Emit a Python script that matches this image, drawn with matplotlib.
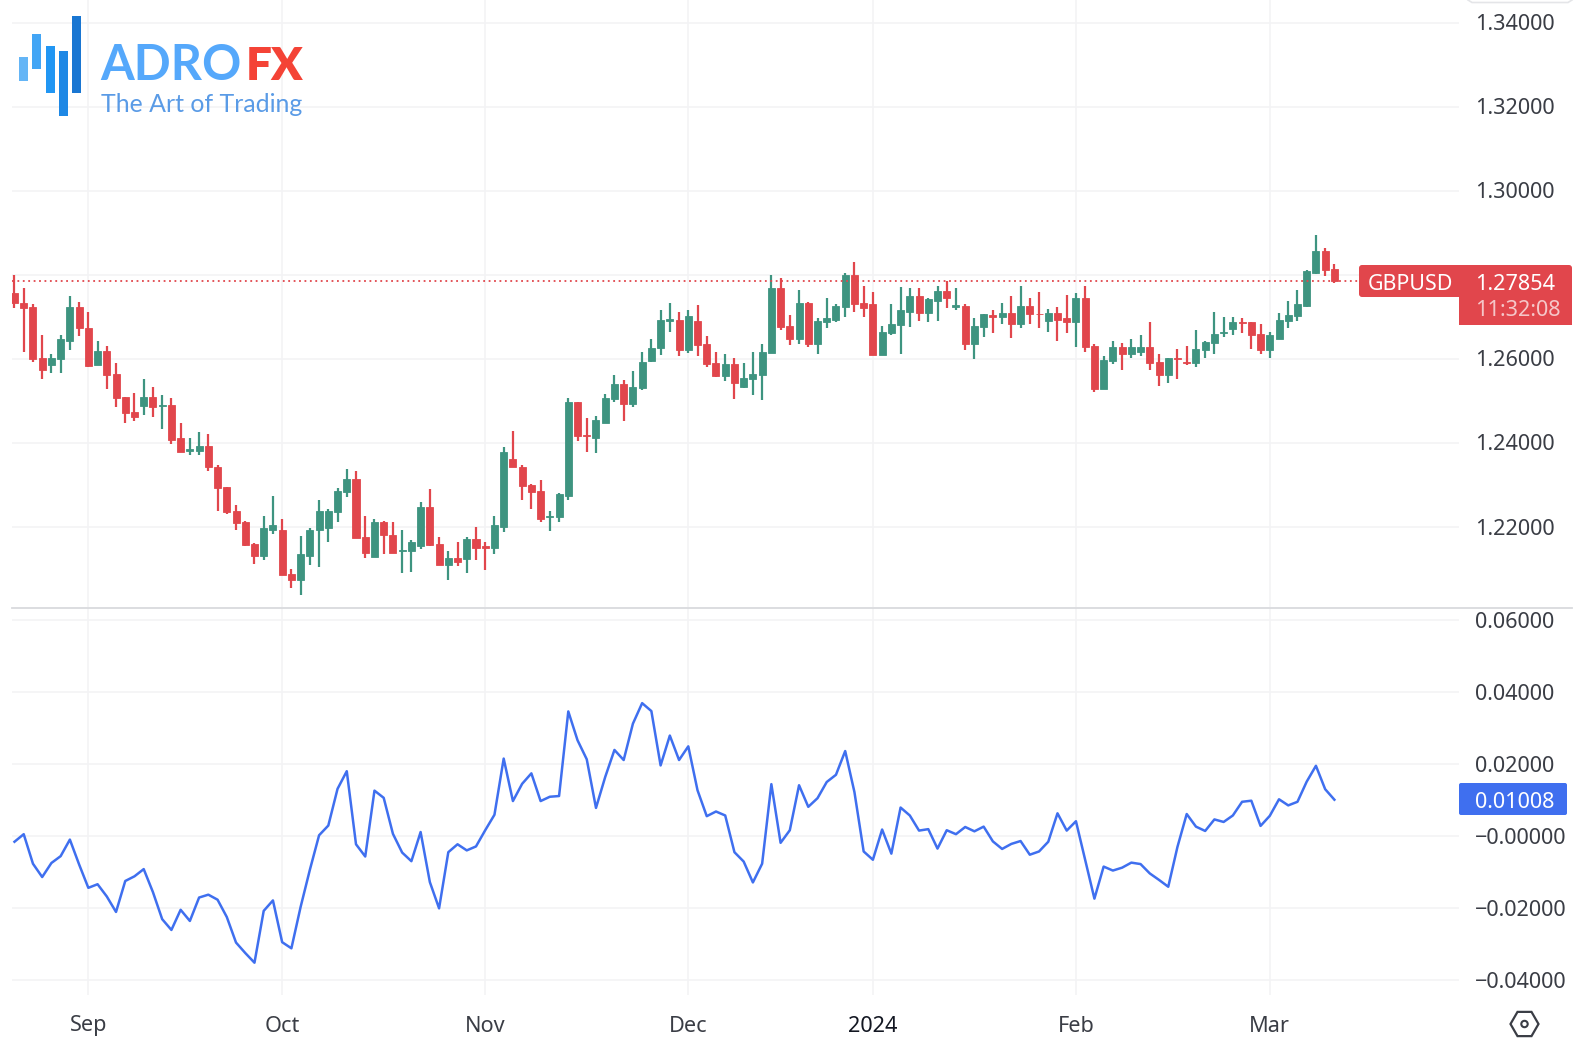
import numpy as np
import matplotlib
matplotlib.use('Agg')
import matplotlib.pyplot as plt
from matplotlib.patches import Rectangle, RegularPolygon, Circle, FancyBboxPatch

# GBPUSD daily candles
opens = [1.2756,1.2734,1.2723,1.2602,1.2585,1.2599,1.2644,1.2723,1.2675,1.2585,
         1.2620,1.2565,1.2510,1.2473,1.2489,1.2510,1.2489,1.2491,1.2411,1.2382,
         1.2382,1.2392,1.2344,1.2296,1.2237,1.2212,1.2160,1.2132,1.2194,1.2193,
         1.2087,1.2073,1.2132,1.2192,1.2198,1.2236,1.2283,1.2315,1.2175,1.2128,
         1.2212,1.2182,1.2143,1.2143,1.2155,1.2248,1.2160,1.2110,1.2127,1.2124,
         1.2171,1.2154,1.2150,1.2201,1.2363,1.2344,1.2301,1.2286,1.2224,1.2224,
         1.2274,1.2498,1.2418,1.2412,1.2448,1.2504,1.2540,1.2493,1.2530,1.2596,
         1.2626,1.2691,1.2694,1.2621,1.2691,1.2636,1.2591,1.2559,1.2587,1.2533,
         1.2552,1.2563,1.2614,1.2768,1.2679,1.2647,1.2734,1.2636,1.2688,1.2694,
         1.2725,1.2801,1.2734,1.2731,1.2610,1.2661,1.2680,1.2713,1.2750,1.2710,
         1.2739,1.2761,1.2725,1.2727,1.2636,1.2676,1.2705,1.2699,1.2709,1.2683,
         1.2727,1.2708,1.2691,1.2709,1.2698,1.2687,1.2745,1.2632,1.2529,1.2595,
         1.2628,1.2613,1.2617,1.2628,1.2594,1.2563,1.2602,1.2594,1.2591,1.2621,
         1.2637,1.2662,1.2672,1.2687,1.2687,1.2660,1.2621,1.2648,1.2691,1.2702,
         1.2726,1.2804,1.2856,1.2815]
highs = [1.2800,1.2768,1.2730,1.2657,1.2612,1.2657,1.2750,1.2735,1.2713,1.2643,
         1.2631,1.2591,1.2510,1.2518,1.2552,1.2533,1.2514,1.2506,1.2448,1.2411,
         1.2425,1.2422,1.2348,1.2296,1.2252,1.2215,1.2163,1.2227,1.2274,1.2220,
         1.2101,1.2178,1.2197,1.2264,1.2244,1.2292,1.2337,1.2334,1.2227,1.2220,
         1.2215,1.2212,1.2194,1.2170,1.2260,1.2290,1.2175,1.2142,1.2165,1.2175,
         1.2201,1.2165,1.2227,1.2391,1.2429,1.2348,1.2302,1.2312,1.2237,1.2282,
         1.2506,1.2498,1.2459,1.2465,1.2517,1.2561,1.2550,1.2572,1.2616,1.2647,
         1.2717,1.2734,1.2712,1.2717,1.2728,1.2654,1.2616,1.2613,1.2602,1.2591,
         1.2616,1.2636,1.2799,1.2793,1.2705,1.2764,1.2735,1.2697,1.2746,1.2730,
         1.2804,1.2830,1.2775,1.2760,1.2679,1.2731,1.2772,1.2768,1.2768,1.2746,
         1.2775,1.2786,1.2768,1.2730,1.2697,1.2708,1.2717,1.2734,1.2749,1.2775,
         1.2746,1.2760,1.2719,1.2723,1.2752,1.2756,1.2775,1.2635,1.2606,1.2643,
         1.2639,1.2647,1.2657,1.2687,1.2613,1.2602,1.2625,1.2631,1.2669,1.2643,
         1.2711,1.2701,1.2701,1.2697,1.2687,1.2683,1.2664,1.2709,1.2738,1.2764,
         1.2812,1.2896,1.2864,1.2826]
lows = [1.2721,1.2617,1.2592,1.2552,1.2566,1.2566,1.2621,1.2655,1.2580,1.2585,
        1.2529,1.2485,1.2448,1.2452,1.2466,1.2463,1.2433,1.2397,1.2378,1.2371,
        1.2371,1.2334,1.2239,1.2232,1.2194,1.2155,1.2113,1.2121,1.2183,1.2085,
        1.2054,1.2039,1.2109,1.2105,1.2164,1.2213,1.2272,1.2173,1.2125,1.2128,
        1.2136,1.2139,1.2091,1.2094,1.2147,1.2155,1.2110,1.2073,1.2106,1.2091,
        1.2121,1.2098,1.2136,1.2187,1.2342,1.2265,1.2243,1.2213,1.2190,1.2213,
        1.2265,1.2405,1.2378,1.2375,1.2448,1.2498,1.2452,1.2485,1.2526,1.2593,
        1.2610,1.2665,1.2607,1.2615,1.2607,1.2580,1.2556,1.2548,1.2504,1.2530,
        1.2514,1.2502,1.2614,1.2669,1.2633,1.2636,1.2628,1.2613,1.2675,1.2687,
        1.2701,1.2713,1.2701,1.2610,1.2610,1.2658,1.2613,1.2677,1.2691,1.2687,
        1.2691,1.2721,1.2717,1.2621,1.2599,1.2652,1.2661,1.2684,1.2651,1.2673,
        1.2683,1.2675,1.2665,1.2644,1.2661,1.2628,1.2617,1.2522,1.2529,1.2588,
        1.2574,1.2602,1.2606,1.2574,1.2536,1.2544,1.2552,1.2585,1.2582,1.2602,
        1.2613,1.2652,1.2658,1.2661,1.2625,1.2613,1.2603,1.2648,1.2673,1.2691,
        1.2725,1.2802,1.2798,1.2780]
closes = [1.2733,1.2721,1.2599,1.2574,1.2602,1.2647,1.2723,1.2673,1.2583,1.2620,
          1.2563,1.2508,1.2471,1.2463,1.2510,1.2485,1.2491,1.2407,1.2378,1.2386,
          1.2392,1.2342,1.2294,1.2235,1.2209,1.2157,1.2132,1.2197,1.2205,1.2085,
          1.2074,1.2135,1.2194,1.2237,1.2237,1.2286,1.2315,1.2173,1.2139,1.2212,
          1.2180,1.2139,1.2146,1.2164,1.2248,1.2157,1.2110,1.2127,1.2117,1.2172,
          1.2151,1.2151,1.2205,1.2378,1.2342,1.2297,1.2283,1.2220,1.2227,1.2278,
          1.2498,1.2417,1.2416,1.2454,1.2506,1.2540,1.2493,1.2533,1.2594,1.2627,
          1.2694,1.2695,1.2621,1.2702,1.2633,1.2588,1.2559,1.2587,1.2544,1.2554,
          1.2564,1.2617,1.2768,1.2677,1.2648,1.2734,1.2636,1.2690,1.2698,1.2727,
          1.2801,1.2732,1.2721,1.2610,1.2664,1.2683,1.2717,1.2750,1.2710,1.2742,
          1.2761,1.2746,1.2728,1.2636,1.2679,1.2706,1.2699,1.2709,1.2683,1.2727,
          1.2706,1.2706,1.2709,1.2694,1.2687,1.2745,1.2629,1.2528,1.2598,1.2628,
          1.2613,1.2628,1.2628,1.2591,1.2563,1.2602,1.2600,1.2591,1.2624,1.2640,
          1.2660,1.2664,1.2687,1.2686,1.2658,1.2621,1.2657,1.2694,1.2705,1.2731,
          1.2809,1.2856,1.2812,1.27854]

# indicator line underneath
spread = [-0.0016,0.0005,-0.0077,-0.0114,-0.0075,-0.0056,-0.0010,-0.0079,-0.0144,-0.0134,
          -0.0168,-0.0211,-0.0125,-0.0112,-0.0092,-0.0156,-0.0231,-0.0261,-0.0205,-0.0236,
          -0.0171,-0.0163,-0.0177,-0.0225,-0.0296,-0.0325,-0.0352,-0.0208,-0.0179,-0.0295,
          -0.0312,-0.0197,-0.0094,0.0002,0.0029,0.0131,0.0180,-0.0023,-0.0057,0.0126,
          0.0106,0.0006,-0.0046,-0.0070,0.0011,-0.0128,-0.0201,-0.0045,-0.0023,-0.0040,
          -0.0029,0.0016,0.0059,0.0215,0.0097,0.0145,0.0174,0.0097,0.0109,0.0111,
          0.0346,0.0266,0.0213,0.0078,0.0164,0.0239,0.0211,0.0312,0.0369,0.0347,
          0.0196,0.0279,0.0211,0.0249,0.0127,0.0055,0.0068,0.0057,-0.0045,-0.0071,
          -0.0129,-0.0077,0.0144,-0.0019,0.0016,0.0141,0.0081,0.0105,0.0150,0.0170,
          0.0236,0.0122,-0.0043,-0.0066,0.0018,-0.0049,0.0079,0.0057,0.0015,0.0019,
          -0.0035,0.0016,0.0005,0.0025,0.0013,0.0026,-0.0015,-0.0036,-0.0022,-0.0014,
          -0.0052,-0.0043,-0.0016,0.0063,0.0015,0.0041,-0.0067,-0.0174,-0.0085,-0.0096,
          -0.0088,-0.0074,-0.0078,-0.0104,-0.0122,-0.0141,-0.0030,0.0061,0.0026,0.0014,
          0.0046,0.0039,0.0057,0.0095,0.0098,0.0028,0.0056,0.0102,0.0085,0.0095,
          0.0151,0.0195,0.0130,0.01008]

month_pos = [8, 29, 51, 73, 93, 115, 136]
month_labels = ['Sep', 'Oct', 'Nov', 'Dec', '2024', 'Feb', 'Mar']
price_ticks = [1.22, 1.24, 1.26, 1.28, 1.30, 1.32, 1.34]
spread_ticks = [-0.04, -0.02, 0.0, 0.02, 0.04, 0.06]
spread_labels = ['\u22120.04000', '\u22120.02000', '\u22120.00000', '0.02000', '0.04000', '0.06000']

W, H = 1574, 1048
GREEN = '#3E9480'
RED = '#E1464C'
BLUE = '#3F6FEF'
GRID = '#F3F3F5'
TXT = '#3A3D45'
FONT = 'Noto Sans'
plt.rcParams['font.family'] = [FONT, 'DejaVu Sans']


def px_axes(left, top, right, bottom):
    return fig.add_axes([left / W, 1 - bottom / H, (right - left) / W, (bottom - top) / H])


fig = plt.figure(figsize=(W / 100, H / 100), dpi=100, facecolor='white')
ax1 = px_axes(12, 0, 1459, 607)
ax2 = px_axes(12, 608, 1459, 995)

x = np.arange(len(opens))
o, h, l, c = map(np.array, (opens, highs, lows, closes))
colors = [GREEN if cc >= oo else RED for oo, cc in zip(o, c)]

ax1.vlines(x, l, h, colors=colors, linewidth=1.6, zorder=3)
ax1.bar(x, np.abs(c - o), bottom=np.minimum(o, c), width=0.76, color=colors,
        edgecolor=colors, linewidth=0.6, zorder=4)
ax1.axhline(closes[-1], color=RED, linestyle=(0, (1, 2)), linewidth=1.3, zorder=5)
ax1.set_xlim(-0.27, 156.5)
ax1.set_ylim(1.20095, 1.34548)
ax1.set_yticks(price_ticks)

ax2.plot(x, spread, color=BLUE, linewidth=1.8, zorder=3)
ax2.set_xlim(-0.27, 156.5)
ax2.set_ylim(-0.04417, 0.06333)
ax2.set_yticks(spread_ticks)

for ax in (ax1, ax2):
    ax.set_xticks(month_pos)
    ax.grid(True, color=GRID, linewidth=1.2)
    ax.set_axisbelow(True)
    ax.tick_params(length=0, labelbottom=False, labelleft=False)
    for s in ax.spines.values():
        s.set_visible(False)
    ax.patch.set_alpha(0)

# tick labels, boxes and logo in pixel coordinates
ov = fig.add_axes([0, 0, 1, 1], zorder=10)
ov.set_xlim(0, W)
ov.set_ylim(H, 0)
ov.axis('off')

ov.plot([12, 1572], [607.5, 607.5], color='#D9DADD', linewidth=1.3)
ov.plot([1468, 1472, 1568, 1572], [0, 2.5, 2.5, 0], color='#E4E5E8', linewidth=1.2)

for t in price_ticks:
    if t == 1.28:
        continue
    y = 361 - (t - 1.26) * 4200
    ov.text(1475, y, '%.5f' % t, fontsize=15.6, color=TXT, va='center', ha='left')
for t, s in zip(spread_ticks, spread_labels):
    y = 838 - t * 3600
    ov.text(1475, y, s, fontsize=15.6, color=TXT, va='center', ha='left')

for p, s in zip(month_pos, month_labels):
    px = 14.5 + 9.23 * p
    ov.text(px, 1026, s, fontsize=15.6, color='#131722' if s == '2024' else TXT,
            fontweight='bold' if s == '2024' else 'normal', va='center', ha='center')

ov.add_patch(FancyBboxPatch((1361, 267), 209, 28, boxstyle='round,pad=2,rounding_size=3',
                            color=RED, lw=0))
ov.add_patch(Rectangle((1459, 290), 113, 35, color=RED, lw=0))
ov.text(1368, 284, 'GBPUSD', fontsize=15.4, color='white', fontweight='medium', va='center', ha='left')
ov.text(1475, 284, '1.27854', fontsize=15.6, color='white', fontweight='semibold', va='center', ha='left')
ov.text(1475, 311, '11:32:08', fontsize=15.6, color='#F5C6C8', va='center', ha='left')

ov.add_patch(FancyBboxPatch((1461, 785), 104, 28, boxstyle='round,pad=2,rounding_size=2',
                            color=BLUE, lw=0))
ov.text(1475, 802, '0.01008', fontsize=15.6, color='white', fontweight='semibold', va='center', ha='left')

ov.add_patch(RegularPolygon((1524.5, 1024), 6, radius=14, orientation=np.pi / 6,
                            fill=False, edgecolor=TXT, linewidth=1.6))
ov.add_patch(Circle((1524.5, 1024), 3.2, fill=False, edgecolor=TXT, linewidth=1.5))

logo_bars = [(19, 57, 81, '#64B5F6'), (32, 34, 69, '#42A5F5'), (46, 46, 93, '#2196F3'),
             (59, 51, 116, '#1E88E5'), (72, 16, 93, '#1976D2')]
for bx, by0, by1, bc in logo_bars:
    ov.add_patch(Rectangle((bx, by0), 9, by1 - by0, color=bc, lw=0))
ov.text(100, 80, 'ADRO', fontsize=35, family='Lato', fontweight='bold', color='#55A8FB', va='baseline')
ov.text(246, 80, 'FX', fontsize=33, family='Lato', fontweight='heavy', color='#F44336', va='baseline')
ov.text(101, 112, 'The Art of Trading', fontsize=17.9, family='Lato', fontweight='normal',
        color='#5A9BE6', va='baseline')

fig.savefig('out.png', dpi=100)
